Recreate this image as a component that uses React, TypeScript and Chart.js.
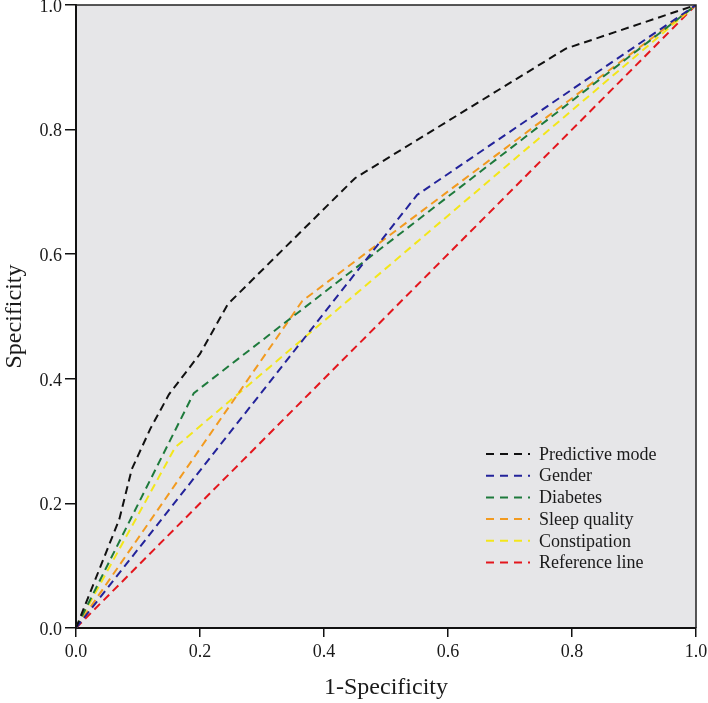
import React, { useEffect, useRef } from "react";
import { Chart, registerables } from "chart.js";
Chart.register(...registerables);

const seriesNames = ["Predictive mode", "Gender", "Diabetes", "Sleep quality", "Constipation", "Reference line"];
const seriesColors = ["#111111", "#23239a", "#1e7a3c", "#f29a1f", "#f3e61a", "#e3161d"];

const predictiveX = [0, 0.02, 0.07, 0.09, 0.12, 0.15, 0.2, 0.245, 0.45, 0.79, 1];
const predictiveY = [0, 0.05, 0.175, 0.255, 0.32, 0.375, 0.44, 0.52, 0.722, 0.93, 1];
const genderX = [0, 0.55, 1];
const genderY = [0, 0.695, 1];
const diabetesX = [0, 0.19, 1];
const diabetesY = [0, 0.377, 1];
const sleepX = [0, 0.365, 1];
const sleepY = [0, 0.525, 1];
const constipationX = [0, 0.16, 1];
const constipationY = [0, 0.29, 1];
const referenceX = [0, 1];
const referenceY = [0, 1];

const xValues = [predictiveX, genderX, diabetesX, sleepX, constipationX, referenceX];
const yValues = [predictiveY, genderY, diabetesY, sleepY, constipationY, referenceY];

const axisTicks = [0, 0.2, 0.4, 0.6, 0.8, 1.0];
const xTitle = "1-Specificity";
const yTitle = "Specificity";

const FONT = "'Liberation Serif', 'Times New Roman', serif";

const bgPlugin = {
  id: "plotBg",
  beforeDraw(chart: any) {
    const { ctx, chartArea } = chart;
    ctx.save();
    ctx.fillStyle = "#e6e6e8";
    ctx.fillRect(chartArea.left, chartArea.top, chartArea.right - chartArea.left, chartArea.bottom - chartArea.top);
    ctx.restore();
  },
  afterDraw(chart: any) {
    const { ctx, chartArea } = chart;
    ctx.save();
    ctx.strokeStyle = "#222";
    ctx.lineWidth = 1.5;
    ctx.beginPath();
    ctx.moveTo(chartArea.left, chartArea.top);
    ctx.lineTo(chartArea.right, chartArea.top);
    ctx.lineTo(chartArea.right, chartArea.bottom);
    ctx.stroke();
    ctx.restore();

    // legend
    ctx.save();
    ctx.font = `18px ${FONT}`;
    ctx.textBaseline = "middle";
    ctx.textAlign = "left";
    const x0 = chartArea.left + 410;
    const y0 = chartArea.top + 449;
    const rowH = 21.7;
    chart.data.datasets.forEach((ds: any, i: number) => {
      const y = y0 + i * rowH;
      ctx.strokeStyle = ds.borderColor;
      ctx.lineWidth = 2;
      ctx.setLineDash([8, 6]);
      ctx.beginPath();
      ctx.moveTo(x0, y);
      ctx.lineTo(x0 + 44, y);
      ctx.stroke();
      ctx.setLineDash([]);
      ctx.fillStyle = "#1a1a1a";
      ctx.fillText(ds.label, x0 + 53, y + 1);
    });
    ctx.restore();
  },
};

export default function App() {
  const ref = useRef<HTMLCanvasElement | null>(null);
  useEffect(() => {
    document.body.style.margin = "0";
    const canvas = ref.current!;
    const datasets = seriesNames.map((name, i) => ({
      label: name,
      data: xValues[i].map((x, j) => ({ x, y: yValues[i][j] })),
      borderColor: seriesColors[i],
      backgroundColor: seriesColors[i],
      borderWidth: 2,
      borderDash: [8, 5],
      pointRadius: 0,
      tension: 0,
      fill: false,
      order: i,
    }));
    const chart = new Chart(canvas, {
      type: "line",
      data: { datasets },
      options: {
        animation: false,
        responsive: false,
        devicePixelRatio: 1,
        layout: { padding: { top: 5, right: 12, left: 0, bottom: 0 } },
        plugins: { legend: { display: false }, tooltip: { enabled: false } },
        scales: {
          x: {
            type: "linear",
            min: 0,
            max: 1,
            afterBuildTicks: (scale: any) => {
              scale.ticks = axisTicks.map((v) => ({ value: v }));
            },
            afterFit: (scale: any) => {
              scale.height = 75;
              scale.paddingLeft = 0;
              scale.paddingRight = 0;
            },
            ticks: {
              callback: (v: any) => Number(v).toFixed(1),
              font: { family: FONT, size: 18 },
              color: "#1a1a1a",
              padding: 4,
              maxRotation: 0,
            },
            grid: { drawOnChartArea: false, drawTicks: true, tickLength: 9, color: "#111", lineWidth: 1.5 },
            border: { display: true, color: "#111", width: 2 },
            title: {
              display: true,
              text: xTitle,
              font: { family: FONT, size: 24 },
              color: "#1a1a1a",
              padding: { top: 0, bottom: 1 },
            },
          },
          y: {
            type: "linear",
            min: 0,
            max: 1,
            afterBuildTicks: (scale: any) => {
              scale.ticks = axisTicks.map((v) => ({ value: v }));
            },
            afterFit: (scale: any) => {
              scale.width = 76;
              scale.paddingTop = 0;
              scale.paddingBottom = 0;
            },
            ticks: {
              callback: (v: any) => Number(v).toFixed(1),
              font: { family: FONT, size: 18 },
              color: "#1a1a1a",
              padding: 3,
              labelOffset: 2,
            },
            grid: { drawOnChartArea: false, drawTicks: true, tickLength: 11, color: "#111", lineWidth: 1.5 },
            border: { display: true, color: "#111", width: 2 },
            title: {
              display: true,
              text: yTitle,
              font: { family: FONT, size: 24 },
              color: "#1a1a1a",
              padding: { top: 0, bottom: 0 },
            },
          },
        },
      },
      plugins: [bgPlugin],
    });
    return () => chart.destroy();
  }, []);
  return <canvas ref={ref} width={708} height={703} style={{ display: "block", width: 708, height: 703 }} />;
}
